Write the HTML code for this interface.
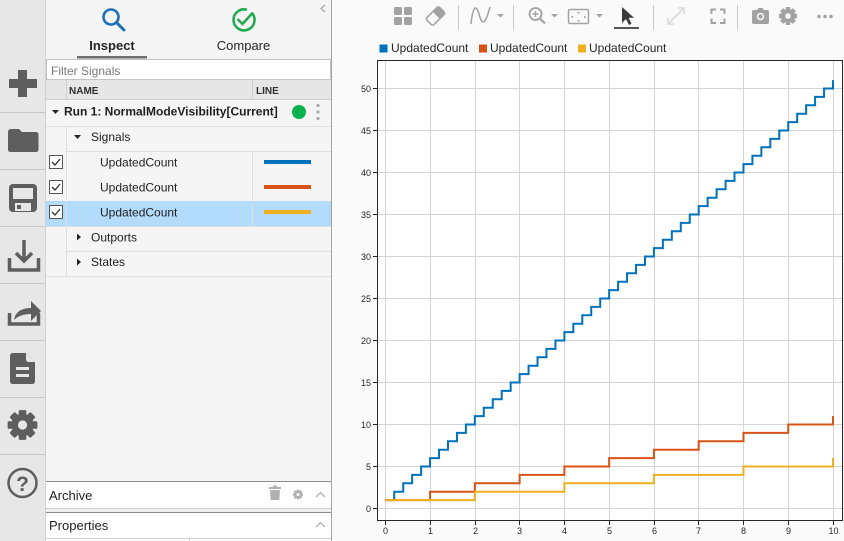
<!DOCTYPE html>
<html>
<head>
<meta charset="utf-8">
<style>
html,body{margin:0;padding:0;width:844px;height:541px;overflow:hidden;background:#fafafa;}
svg{display:block;font-family:"Liberation Sans",Arial,sans-serif;}
</style>
</head>
<body>
<svg width="844" height="541" viewBox="0 0 844 541" xmlns="http://www.w3.org/2000/svg">
  <!-- backgrounds -->
  <rect x="0" y="0" width="844" height="541" fill="#fafafa"/>
  <rect x="0" y="0" width="46" height="541" fill="#e7e7e7"/>
  <line x1="45.5" y1="0" x2="45.5" y2="541" stroke="#d2d2d2"/>
  <rect x="46" y="0" width="286" height="541" fill="#f5f5f5"/>
  <line x1="331.5" y1="0" x2="331.5" y2="541" stroke="#a3a3a3"/>

  <!-- sidebar separators -->
  <g stroke="#c6c6c6" stroke-width="1">
    <line x1="0" y1="112.5" x2="45" y2="112.5"/>
    <line x1="0" y1="169.5" x2="45" y2="169.5"/>
    <line x1="0" y1="226.5" x2="45" y2="226.5"/>
    <line x1="0" y1="283.5" x2="45" y2="283.5"/>
    <line x1="0" y1="340.5" x2="45" y2="340.5"/>
    <line x1="0" y1="397.5" x2="45" y2="397.5"/>
    <line x1="0" y1="454.5" x2="45" y2="454.5"/>
  </g>

  <!-- sidebar icons -->
  <g fill="#5e5e5e">
    <!-- plus -->
    <rect x="9" y="79" width="28" height="9"/>
    <rect x="18" y="70" width="9" height="27"/>
    <!-- folder -->
    <path d="M8 132 q0-3 3-3 h8 l3 3 h14 q2.5 0 2.5 2.5 v15 q0 2.5-2.5 2.5 h-25.5 q-2.5 0-2.5-2.5z"/>
    <!-- save -->
    <rect x="9" y="184" width="28" height="28" rx="4"/>
    <rect x="13" y="188" width="20" height="11" fill="#e7e7e7"/>
    <rect x="15" y="203" width="16" height="8" fill="#e7e7e7"/>
    <rect x="17" y="205" width="4" height="4" fill="#5e5e5e"/>
    <!-- doc -->
    <path d="M13 353 h13 l9 9 v19 q0 3-3 3 h-19 q-3 0-3-3 v-25 q0-3 3-3z"/>
    <rect x="16" y="367" width="13" height="3" fill="#e7e7e7"/>
    <rect x="16" y="374" width="13" height="3" fill="#e7e7e7"/>
    <path d="M26 353 v6 q0 3 3 3 h6z" fill="#e7e7e7"/>
  </g>
  <!-- download -->
  <g fill="none" stroke="#5e5e5e" stroke-width="3.5">
    <path d="M9.5 258 v12 h29 v-12"/>
    <path d="M24 240 v21"/>
    <path d="M16 253 l8 8 l8-8"/>
  </g>
  <!-- share -->
  <g fill="none" stroke="#5e5e5e" stroke-width="3.5">
    <path d="M9.5 313 v11 h29 v-11"/>
  </g>
  <path d="M14 320 q2-12 17-12 v-7 l10 10 l-10 10 v-7 q-11 0-17 6z" fill="#5e5e5e"/>
  <!-- sidebar gear -->
  <g transform="translate(22.5,425) scale(1.65)" fill="#5e5e5e">
    <circle r="6.8"/>
    <rect x="-2.3" y="-9" width="4.6" height="18" rx="0.8"/>
    <rect x="-2.3" y="-9" width="4.6" height="18" rx="0.8" transform="rotate(45)"/>
    <rect x="-2.3" y="-9" width="4.6" height="18" rx="0.8" transform="rotate(90)"/>
    <rect x="-2.3" y="-9" width="4.6" height="18" rx="0.8" transform="rotate(135)"/>
    <circle r="2.8" fill="#e7e7e7"/>
  </g>
  <!-- help -->
  <circle cx="22.5" cy="483" r="14" fill="none" stroke="#5e5e5e" stroke-width="2.5"/>
  <text x="22.5" y="491" font-size="21" font-weight="bold" fill="#5e5e5e" text-anchor="middle">?</text>

  <!-- top tabs -->
  <circle cx="111" cy="17" r="7.5" fill="none" stroke="#1d6fb8" stroke-width="2.6"/>
  <line x1="116.5" y1="22.5" x2="124" y2="30" stroke="#1d6fb8" stroke-width="3" stroke-linecap="round"/>
  <path d="M251.5 12.5 A10.5 10.5 0 1 1 247 9.8" fill="none" stroke="#1ea94c" stroke-width="2.5"/>
  <path d="M237.5 19 l5 5 l10-11" fill="none" stroke="#1ea94c" stroke-width="2.5"/>
  <text x="112" y="50" font-size="13" font-weight="bold" fill="#262626" text-anchor="middle">Inspect</text>
  <text x="243.5" y="50" font-size="13" fill="#262626" text-anchor="middle">Compare</text>
  <rect x="77" y="56" width="70" height="2.5" fill="#6e6e6e"/>
  <path d="M325 5 l-4 3.5 l4 3.5" fill="none" stroke="#a8a8a8" stroke-width="1.3"/>

  <!-- filter box -->
  <rect x="46.5" y="59.5" width="284" height="20" fill="#ffffff" stroke="#c4c4c4"/>
  <text x="51" y="75" font-size="12" fill="#7a7a7a">Filter Signals</text>

  <!-- header -->
  <rect x="46" y="80" width="285" height="20" fill="#e6e6e6"/>
  <line x1="46" y1="99.5" x2="331" y2="99.5" stroke="#d0d0d0"/>
  <line x1="66.5" y1="80" x2="66.5" y2="100" stroke="#d0d0d0"/>
  <line x1="252.5" y1="80" x2="252.5" y2="100" stroke="#d0d0d0"/>
  <text x="69" y="94" font-size="10" font-weight="bold" fill="#303030">NAME</text>
  <text x="256" y="94" font-size="10" font-weight="bold" fill="#303030">LINE</text>

  <!-- run row -->
  <path d="M52 110 h7 l-3.5 4z" fill="#262626"/>
  <text x="64" y="115.5" font-size="12" font-weight="bold" fill="#1f1f1f">Run 1: NormalModeVisibility[Current]</text>
  <circle cx="299" cy="112" r="7" fill="#0bb04f"/>
  <circle cx="318" cy="105.5" r="1.6" fill="#a8a8a8"/>
  <circle cx="318" cy="112" r="1.6" fill="#a8a8a8"/>
  <circle cx="318" cy="118.5" r="1.6" fill="#a8a8a8"/>
  <line x1="46" y1="126.5" x2="331" y2="126.5" stroke="#e0e0e0"/>

  <!-- highlight row -->
  <rect x="46" y="201" width="285" height="25" fill="#b3dbfc"/>

  <!-- grid lines of tree -->
  <g stroke="#dedede">
    <line x1="66.5" y1="127" x2="66.5" y2="276"/>
    <line x1="66" y1="151.5" x2="331" y2="151.5"/>
    <line x1="252.5" y1="152" x2="252.5" y2="226"/>
    <line x1="46" y1="226.5" x2="331" y2="226.5"/>
    <line x1="66" y1="251.5" x2="331" y2="251.5"/>
    <line x1="46" y1="276.5" x2="331" y2="276.5"/>
  </g>

  <!-- signals -->
  <path d="M74 135 h7 l-3.5 4z" fill="#262626"/>
  <text x="91" y="141" font-size="12" fill="#1f1f1f">Signals</text>

  <g font-size="12" fill="#1f1f1f">
    <text x="100" y="166.5">UpdatedCount</text>
    <text x="100" y="191.5">UpdatedCount</text>
    <text x="100" y="216.5">UpdatedCount</text>
  </g>
  <rect x="264" y="160" width="47" height="4" fill="#0072bd"/>
  <rect x="264" y="185" width="47" height="4" fill="#d95319"/>
  <rect x="264" y="210" width="47" height="4" fill="#edb120"/>

  <!-- checkboxes -->
  <g>
    <rect x="49.5" y="155.5" width="13" height="13" fill="#fff" stroke="#555"/>
    <path d="M52 162 l3 3 l5-6" fill="none" stroke="#333" stroke-width="1.3"/>
    <rect x="49.5" y="180.5" width="13" height="13" fill="#fff" stroke="#555"/>
    <path d="M52 187 l3 3 l5-6" fill="none" stroke="#333" stroke-width="1.3"/>
    <rect x="49.5" y="205.5" width="13" height="13" fill="#fff" stroke="#555"/>
    <path d="M52 212 l3 3 l5-6" fill="none" stroke="#333" stroke-width="1.3"/>
  </g>

  <!-- outports/states -->
  <path d="M77 233.5 v7 l4-3.5z" fill="#262626"/>
  <text x="91" y="241.5" font-size="12" fill="#1f1f1f">Outports</text>
  <path d="M77 258.5 v7 l4-3.5z" fill="#262626"/>
  <text x="91" y="266" font-size="12" fill="#1f1f1f">States</text>

  <!-- archive / properties -->
  <rect x="46" y="482" width="285" height="26" fill="#ffffff"/>
  <line x1="46" y1="481.5" x2="331" y2="481.5" stroke="#8c8c8c"/>
  <line x1="46" y1="508.5" x2="331" y2="508.5" stroke="#cfcfcf"/>
  <rect x="46" y="509" width="285" height="3" fill="#f0f0f0"/>
  <rect x="46" y="513" width="285" height="25" fill="#ffffff"/>
  <line x1="46" y1="512.5" x2="331" y2="512.5" stroke="#8c8c8c"/>
  <line x1="46" y1="538.5" x2="331" y2="538.5" stroke="#cfcfcf"/>
  <rect x="46" y="539" width="285" height="2" fill="#ffffff"/>
  <line x1="189.5" y1="539" x2="189.5" y2="541" stroke="#cfcfcf"/>
  <text x="49" y="500" font-size="13" fill="#1f1f1f">Archive</text>
  <text x="49" y="530" font-size="13" fill="#1f1f1f">Properties</text>
  <!-- trash -->
  <g fill="#b0b0b0">
    <rect x="269" y="487" width="12" height="2"/>
    <rect x="273" y="485.5" width="4" height="2"/>
    <path d="M270 490 h10 l-0.7 10 h-8.6z"/>
  </g>
  <g transform="translate(298,494.5) scale(0.55)" fill="#b0b0b0">
    <circle r="6.8"/>
    <rect x="-2.3" y="-9" width="4.6" height="18"/>
    <rect x="-2.3" y="-9" width="4.6" height="18" transform="rotate(45)"/>
    <rect x="-2.3" y="-9" width="4.6" height="18" transform="rotate(90)"/>
    <rect x="-2.3" y="-9" width="4.6" height="18" transform="rotate(135)"/>
    <circle r="2.8" fill="#fff"/>
  </g>
  <path d="M316 497 l4.5-4.5 l4.5 4.5" fill="none" stroke="#b0b0b0" stroke-width="1.3"/>
  <path d="M316 527 l4.5-4.5 l4.5 4.5" fill="none" stroke="#b0b0b0" stroke-width="1.3"/>

  <!-- toolbar -->
  <g fill="#a2a2a2">
    <rect x="394" y="7" width="8" height="8" rx="1.5"/>
    <rect x="404" y="7" width="8" height="8" rx="1.5"/>
    <rect x="394" y="17" width="8" height="8" rx="1.5"/>
    <rect x="404" y="17" width="8" height="8" rx="1.5"/>
  </g>
  <g transform="translate(435.5,16) rotate(-45)">
    <rect x="-9" y="-5" width="18" height="10" rx="2" fill="none" stroke="#a2a2a2" stroke-width="1.6"/>
    <rect x="1" y="-5" width="8" height="10" rx="1.5" fill="#a2a2a2"/>
  </g>
  <g stroke="#c9c9c9">
    <line x1="458.5" y1="5" x2="458.5" y2="30"/>
    <line x1="513.5" y1="5" x2="513.5" y2="30"/>
    <line x1="653.5" y1="5" x2="653.5" y2="30"/>
    <line x1="737.5" y1="5" x2="737.5" y2="30"/>
  </g>
  <path d="M471 24 C473 6 476 4 479 14 C482 25 485 26 490 7" fill="none" stroke="#a2a2a2" stroke-width="1.5"/>
  <path d="M497 14 h7 l-3.5 3.5z" fill="#a2a2a2"/>
  <circle cx="535.5" cy="14" r="6" fill="none" stroke="#a2a2a2" stroke-width="1.8"/>
  <line x1="540" y1="18.5" x2="545" y2="23.5" stroke="#a2a2a2" stroke-width="2.2"/>
  <path d="M532.5 14 h6 M535.5 11 v6" stroke="#a2a2a2" stroke-width="1.4"/>
  <path d="M551 14 h7 l-3.5 3.5z" fill="#a2a2a2"/>
  <rect x="568.5" y="9.5" width="20" height="14" rx="1.5" fill="none" stroke="#a2a2a2" stroke-width="1.5"/>
  <g fill="#a2a2a2">
    <rect x="577.5" y="12" width="2" height="1.5"/>
    <rect x="577.5" y="20" width="2" height="1.5"/>
    <rect x="571.5" y="16" width="1.5" height="2"/>
    <rect x="584" y="16" width="1.5" height="2"/>
  </g>
  <path d="M596 14 h7 l-3.5 3.5z" fill="#a2a2a2"/>
  <path d="M622 7 v16 l4-4 l3 6 l2.5-1.2 l-3-6 h5.5z" fill="#3a3a3a"/>
  <rect x="614" y="27" width="25" height="2" fill="#555"/>
  <g stroke="#dadada" stroke-width="1.6" fill="none">
    <path d="M668 24 l16-16"/>
    <path d="M668 18 v6 h6"/>
    <path d="M678 8 h6 v6"/>
  </g>
  <g stroke="#a2a2a2" stroke-width="2" fill="none">
    <path d="M711.5 14 v-4.5 h4.5"/>
    <path d="M720 9.5 h4.5 v4.5"/>
    <path d="M724.5 18.5 v4.5 h-4.5"/>
    <path d="M716 23 h-4.5 v-4.5"/>
  </g>
  <path d="M752 12 q0-2 2-2 h3 l1.5-2 h4 l1.5 2 h3 q2 0 2 2 v10 q0 2-2 2 h-13 q-2 0-2-2z" fill="#a2a2a2"/>
  <circle cx="760.5" cy="16.5" r="3.7" fill="#fafafa"/>
  <circle cx="760.5" cy="16.5" r="2.2" fill="#a2a2a2"/>
  <g transform="translate(788,16)" fill="#a2a2a2">
    <circle r="6.8"/>
    <rect x="-2.3" y="-9" width="4.6" height="18" rx="0.8"/>
    <rect x="-2.3" y="-9" width="4.6" height="18" rx="0.8" transform="rotate(45)"/>
    <rect x="-2.3" y="-9" width="4.6" height="18" rx="0.8" transform="rotate(90)"/>
    <rect x="-2.3" y="-9" width="4.6" height="18" rx="0.8" transform="rotate(135)"/>
    <circle r="2.8" fill="#fafafa"/>
  </g>
  <g fill="#a2a2a2">
    <circle cx="819" cy="16.5" r="1.8"/>
    <circle cx="825" cy="16.5" r="1.8"/>
    <circle cx="831" cy="16.5" r="1.8"/>
  </g>

  <!-- legend -->
  <rect x="379.5" y="44.5" width="8" height="8" fill="#0072bd"/>
  <text x="391" y="52" font-size="12" fill="#262626">UpdatedCount</text>
  <rect x="479" y="44.5" width="8" height="8" fill="#d95319"/>
  <text x="490" y="52" font-size="12" fill="#262626">UpdatedCount</text>
  <rect x="578" y="44.5" width="8" height="8" fill="#edb120"/>
  <text x="589" y="52" font-size="12" fill="#262626">UpdatedCount</text>

  <!-- plot area -->
  <rect x="377.5" y="60.5" width="465" height="460" fill="#ffffff"/>
  <g stroke="#d4d4d4" stroke-width="1">
    <line x1="385.5" y1="61" x2="385.5" y2="520"/>
    <line x1="430.5" y1="61" x2="430.5" y2="520"/>
    <line x1="475.5" y1="61" x2="475.5" y2="520"/>
    <line x1="519.5" y1="61" x2="519.5" y2="520"/>
    <line x1="564.5" y1="61" x2="564.5" y2="520"/>
    <line x1="609.5" y1="61" x2="609.5" y2="520"/>
    <line x1="654.5" y1="61" x2="654.5" y2="520"/>
    <line x1="698.5" y1="61" x2="698.5" y2="520"/>
    <line x1="743.5" y1="61" x2="743.5" y2="520"/>
    <line x1="788.5" y1="61" x2="788.5" y2="520"/>
    <line x1="833.5" y1="61" x2="833.5" y2="520"/>
    <line x1="378" y1="508.5" x2="842" y2="508.5"/>
    <line x1="378" y1="466.5" x2="842" y2="466.5"/>
    <line x1="378" y1="424.5" x2="842" y2="424.5"/>
    <line x1="378" y1="382.5" x2="842" y2="382.5"/>
    <line x1="378" y1="340.5" x2="842" y2="340.5"/>
    <line x1="378" y1="298.5" x2="842" y2="298.5"/>
    <line x1="378" y1="256.5" x2="842" y2="256.5"/>
    <line x1="378" y1="214.5" x2="842" y2="214.5"/>
    <line x1="378" y1="172.5" x2="842" y2="172.5"/>
    <line x1="378" y1="130.5" x2="842" y2="130.5"/>
    <line x1="378" y1="88.5" x2="842" y2="88.5"/>
  </g>

  <!-- series -->
  <g fill="none" stroke-width="2" stroke-linejoin="miter" stroke-linecap="butt">
    <path stroke="#0072bd" d="M385.3 500.1
      h8.954v-8.4h8.954v-8.4h8.954v-8.4h8.954v-8.4h8.954v-8.4
      h8.954v-8.4h8.954v-8.4h8.954v-8.4h8.954v-8.4h8.954v-8.4
      h8.954v-8.4h8.954v-8.4h8.954v-8.4h8.954v-8.4h8.954v-8.4
      h8.954v-8.4h8.954v-8.4h8.954v-8.4h8.954v-8.4h8.954v-8.4
      h8.954v-8.4h8.954v-8.4h8.954v-8.4h8.954v-8.4h8.954v-8.4
      h8.954v-8.4h8.954v-8.4h8.954v-8.4h8.954v-8.4h8.954v-8.4
      h8.954v-8.4h8.954v-8.4h8.954v-8.4h8.954v-8.4h8.954v-8.4
      h8.954v-8.4h8.954v-8.4h8.954v-8.4h8.954v-8.4h8.954v-8.4
      h8.954v-8.4h8.954v-8.4h8.954v-8.4h8.954v-8.4h8.954v-8.4
      h8.954v-8.4h8.954v-8.4h8.954v-8.4h8.954v-8.4h8.954v-8.4"/>
    <path stroke="#d95319" d="M385.3 500.1
      h44.77v-8.4h44.77v-8.4h44.77v-8.4h44.77v-8.4h44.77v-8.4
      h44.77v-8.4h44.77v-8.4h44.77v-8.4h44.77v-8.4h44.77v-8.4"/>
    <path stroke="#edb120" d="M385.3 500.1
      h89.54v-8.4h89.54v-8.4h89.54v-8.4h89.54v-8.4h89.54v-8.4"/>
  </g>

  <!-- axes box -->
  <rect x="377.5" y="60.5" width="465" height="460" fill="none" stroke="#262626" stroke-width="1"/>

  <!-- ticks -->
  <g stroke="#262626" stroke-width="1">
    <line x1="373" y1="508.5" x2="377" y2="508.5"/>
    <line x1="373" y1="466.5" x2="377" y2="466.5"/>
    <line x1="373" y1="424.5" x2="377" y2="424.5"/>
    <line x1="373" y1="382.5" x2="377" y2="382.5"/>
    <line x1="373" y1="340.5" x2="377" y2="340.5"/>
    <line x1="373" y1="298.5" x2="377" y2="298.5"/>
    <line x1="373" y1="256.5" x2="377" y2="256.5"/>
    <line x1="373" y1="214.5" x2="377" y2="214.5"/>
    <line x1="373" y1="172.5" x2="377" y2="172.5"/>
    <line x1="373" y1="130.5" x2="377" y2="130.5"/>
    <line x1="373" y1="88.5" x2="377" y2="88.5"/>
    <line x1="385.5" y1="521" x2="385.5" y2="525"/>
    <line x1="430.5" y1="521" x2="430.5" y2="525"/>
    <line x1="475.5" y1="521" x2="475.5" y2="525"/>
    <line x1="519.5" y1="521" x2="519.5" y2="525"/>
    <line x1="564.5" y1="521" x2="564.5" y2="525"/>
    <line x1="609.5" y1="521" x2="609.5" y2="525"/>
    <line x1="654.5" y1="521" x2="654.5" y2="525"/>
    <line x1="698.5" y1="521" x2="698.5" y2="525"/>
    <line x1="743.5" y1="521" x2="743.5" y2="525"/>
    <line x1="788.5" y1="521" x2="788.5" y2="525"/>
    <line x1="833.5" y1="521" x2="833.5" y2="525"/>
  </g>
  <g font-size="9" fill="#262626" text-anchor="end">
    <text x="371" y="512">0</text>
    <text x="371" y="470">5</text>
    <text x="371" y="428">10</text>
    <text x="371" y="386">15</text>
    <text x="371" y="344">20</text>
    <text x="371" y="302">25</text>
    <text x="371" y="260">30</text>
    <text x="371" y="218">35</text>
    <text x="371" y="176">40</text>
    <text x="371" y="134">45</text>
    <text x="371" y="92">50</text>
  </g>
  <g font-size="9" fill="#262626" text-anchor="middle">
    <text x="385.5" y="534">0</text>
    <text x="430.5" y="534">1</text>
    <text x="475.5" y="534">2</text>
    <text x="519.5" y="534">3</text>
    <text x="564.5" y="534">4</text>
    <text x="609.5" y="534">5</text>
    <text x="654.5" y="534">6</text>
    <text x="698.5" y="534">7</text>
    <text x="743.5" y="534">8</text>
    <text x="788.5" y="534">9</text>
    <text x="833.5" y="534">10</text>
  </g>
</svg>
</body>
</html>
